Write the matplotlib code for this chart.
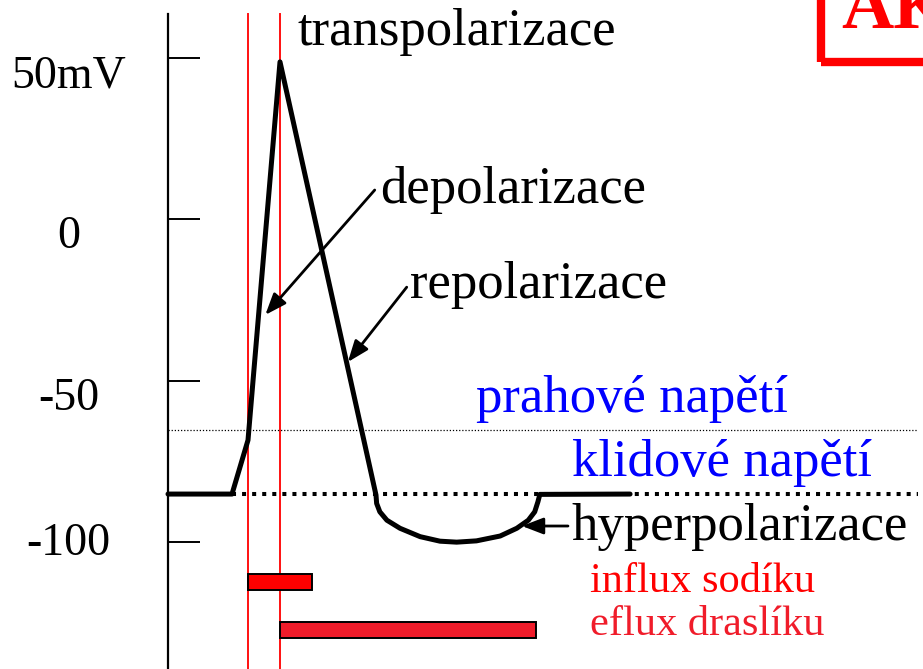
import matplotlib.pyplot as plt
from matplotlib.patches import Rectangle

# action potential trace (time in ms, voltage in mV)
trace_t = [0.0, 1.0, 1.25, 1.75, 3.25, 3.26, 3.31, 3.42, 3.625, 3.94, 4.25, 4.51,
           4.82, 5.19, 5.45, 5.63, 5.73, 5.78, 5.81, 7.22]
trace_v = [-85.1, -85.1, -68.4, 48.8, -85.4, -88.0, -90.6, -93.2, -95.7, -98.3, -99.7,
           -100.0, -99.6, -98.1, -95.7, -93.2, -90.6, -87.5, -85.2, -85.1]

resting_v = -85.1
threshold_v = -65.3
channel_times = [1.25, 1.75]          # red vertical markers

# ion flux bars: (start, duration)
bar_names = ['influx sodíku', 'eflux draslíku']
bar_start = [1.25, 1.75]
bar_length = [1.0, 4.0]
bar_level = [-112.4, -127.3]
bar_colors = ['#ff0000', '#f01c2a']

tick_values = [50, 0, -50, -100]
tick_labels = ['50mV', '0', '-50', '-100']
tick_label_v = [41.0, -8.9, -59.1, -104.0]

serif = 'Liberation Serif'

fig = plt.figure(figsize=(9.23, 6.69), dpi=100)
ax = fig.add_axes([0, 0, 1, 1])
ax.set_xlim(-2.625, 11.797)
ax.set_ylim(-139.3, 67.97)

for s in ['top', 'right', 'bottom']:
    ax.spines[s].set_visible(False)
ax.spines['left'].set_position(('data', 0))
ax.spines['left'].set_bounds(-140, 63.6)
ax.spines['left'].set_linewidth(1.6)
ax.set_xticks([])
ax.set_yticks(tick_values)
ax.tick_params(axis='y', direction='in', length=23, width=1.4, labelleft=False)
for v, lab in zip(tick_label_v, tick_labels):
    ax.text(-1.55, v, lab, ha='center', va='baseline', fontsize=33, family=serif)

# threshold and resting level
ax.plot([0, 11.72], [threshold_v, threshold_v], color='black', lw=0.9, ls=(0, (1, 1.5)))
ax.plot([1.0, 11.72], [resting_v, resting_v], color='black', lw=2.9, ls=(0, (1, 1.5)))

# red vertical markers
for t in channel_times:
    ax.plot([t, t], [63.6, -140], color='#ff1010', lw=1.4, zorder=1)

# the trace
ax.plot(trace_t, trace_v, color='black', lw=3.6, solid_joinstyle='round',
        solid_capstyle='round', zorder=3)

# flux bars
ax.barh(bar_level, bar_length, left=bar_start, height=4.96, color=bar_colors,
        edgecolor='black', linewidth=1.4, zorder=2)

# labels
big = 38
ax.text(2.016, 54.0, 'transpolarizace', fontsize=big, family=serif, va='baseline')
ax.text(3.31, 5.07, 'depolarizace', fontsize=big, family=serif, va='baseline')
ax.text(3.78, -24.4, 'repolarizace', fontsize=big, family=serif, va='baseline')
ax.text(4.81, -59.7, 'prahové napětí', fontsize=big, family=serif, va='baseline', color='#0000ff')
ax.text(6.31, -79.5, 'klidové napětí', fontsize=big, family=serif, va='baseline', color='#0000ff')
ax.text(6.31, -99.4, 'hyperpolarizace', fontsize=big, family=serif, va='baseline')
ax.text(6.59, -115.5, bar_names[0], fontsize=30.5, family=serif, va='baseline', color=bar_colors[0])
ax.text(6.59, -128.8, bar_names[1], fontsize=30.5, family=serif, va='baseline', color=bar_colors[1])

arrow = dict(arrowstyle='-|>,head_length=1.3,head_width=0.5', color='black', lw=2,
             shrinkA=0, shrinkB=0)
ax.annotate('', xy=(1.52, -29.6), xytext=(3.23, 9.1), arrowprops=arrow)
ax.annotate('', xy=(2.81, -44.2), xytext=(3.73, -21.0), arrowprops=arrow)
ax.annotate('', xy=(5.53, -95.0), xytext=(6.25, -95.0), arrowprops=arrow)

# title box in the corner (cut off by the edge, as in the original slide)
ax.add_patch(Rectangle((0.8895, 0.907), 0.2, 0.2, transform=ax.transAxes, fill=False,
                       edgecolor='#ff0000', lw=6, clip_on=False))
ax.text(0.911, 0.958, 'AK', transform=ax.transAxes, fontsize=52, fontweight='bold',
        family=serif, color='#ff0000', va='baseline')

fig.savefig('out.png', dpi=100)
